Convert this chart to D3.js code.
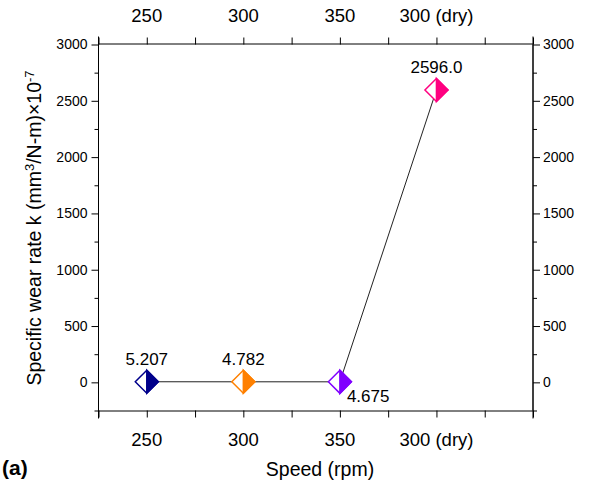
<!DOCTYPE html>
<html><head><meta charset="utf-8">
<script src="https://cdn.jsdelivr.net/npm/d3@7"></script>
<style>body{margin:0;background:#fff}svg{font-family:"Liberation Sans",Arial,sans-serif}</style>
</head><body>
<svg id="c" width="592" height="488"></svg>
<script>
const categories = ["250", "300", "350", "300 (dry)"];
const values = [5.207, 4.782, 4.675, 2596.0];
const valueLabels = ["5.207", "4.782", "4.675", "2596.0"];
const colors = ["#00008B", "#FF8000", "#8000FF", "#FF0080"];
const yTicks = [0, 500, 1000, 1500, 2000, 2500, 3000];

const svg = d3.select("#c");
const L = 98.5, R = 533, T = 44.5, B = 410.5;
const x = d3.scaleLinear().domain([0.5, 5]).range([L, R]);
const y = d3.scaleLinear().domain([-250, 3000]).range([B, T]);
const pos = categories.map((c, i) => i + 1);

const tickVals = d3.range(0.5, 5.01, 0.5);
const yMinor = d3.range(-250, 3001, 500);

// bottom / top axes
svg.append("g").attr("transform", `translate(0,${B})`)
  .call(d3.axisBottom(x).tickValues(tickVals).tickSize(7).tickFormat(""))
  .call(s => s.select(".domain").attr("d", `M${L},0.5H${R}`));
svg.append("g").attr("transform", `translate(0,${T})`)
  .call(d3.axisTop(x).tickValues(tickVals).tickSize(7).tickFormat(""))
  .call(s => s.select(".domain").attr("d", `M${L},-0.5H${R}`));
// left / right axes: major
svg.append("g").attr("transform", `translate(${L},0)`)
  .call(d3.axisLeft(y).tickValues(yTicks).tickSize(7).tickFormat(""))
  .call(s => s.select(".domain").attr("d", `M0,${T}V${B}`));
svg.append("g").attr("transform", `translate(${R},0)`)
  .call(d3.axisRight(y).tickValues(yTicks).tickSize(7).tickFormat(""))
  .call(s => s.select(".domain").attr("d", `M0,${T}V${B}`));
// minor
svg.append("g").attr("transform", `translate(${L},0)`)
  .call(d3.axisLeft(y).tickValues(yMinor).tickSize(4).tickFormat(""))
  .call(s => s.select(".domain").remove());
svg.append("g").attr("transform", `translate(${R},0)`)
  .call(d3.axisRight(y).tickValues(yMinor).tickSize(4).tickFormat(""))
  .call(s => s.select(".domain").remove());
svg.selectAll(".tick line").attr("stroke", "#000");
svg.append("path").attr("stroke","#000").attr("d",
  `M${L},${T-8}V${B+8}M${R},${T-8}V${B+8}`);

// y tick labels
svg.append("g").selectAll("text").data(yTicks).join("text")
  .attr("x", L - 11).attr("y", d => y(d)).attr("dy", "0.35em")
  .attr("text-anchor", "end").attr("font-size", 14).text(d => d);
svg.append("g").selectAll("text").data(yTicks).join("text")
  .attr("x", R + 10).attr("y", d => y(d)).attr("dy", "0.35em")
  .attr("text-anchor", "start").attr("font-size", 14).text(d => d);

// x tick labels
svg.append("g").selectAll("text").data(categories).join("text")
  .attr("x", (d, i) => x(pos[i])).attr("y", 446)
  .attr("text-anchor", "middle").attr("font-size", 18.5).text(d => d);
svg.append("g").selectAll("text").data(categories).join("text")
  .attr("x", (d, i) => x(pos[i])).attr("y", 22)
  .attr("text-anchor", "middle").attr("font-size", 18.5).text(d => d);

// line
const line = d3.line().x((d, i) => x(pos[i])).y(d => y(d));
svg.append("path").datum(values).attr("d", line)
  .attr("fill", "none").attr("stroke", "#222").attr("stroke-width", 1);

// markers: half-filled diamonds
const s = 11.5;
const mk = svg.append("g").selectAll("g").data(values).join("g")
  .attr("transform", (d, i) => `translate(${x(pos[i])},${y(d)})`);
mk.append("path").attr("d", `M0,${-s}L${s},0L0,${s}L${-s},0Z`)
  .attr("fill", "#fff").attr("stroke", (d, i) => colors[i]).attr("stroke-width", 1.5);
mk.append("path").attr("d", `M0,${-s}L${s},0L0,${s}Z`)
  .attr("fill", (d, i) => colors[i]).attr("stroke", (d, i) => colors[i]).attr("stroke-width", 1.5);

// value labels
const lblOff = [[0, -17, "middle"], [0, -17, "middle"], [7, 20, "start"], [0, -17, "middle"]];
svg.append("g").selectAll("text").data(valueLabels).join("text")
  .attr("x", (d, i) => x(pos[i]) + lblOff[i][0])
  .attr("y", (d, i) => y(values[i]) + lblOff[i][1])
  .attr("text-anchor", (d, i) => lblOff[i][2])
  .attr("font-size", 17).text(d => d);

// axis titles
svg.append("text").attr("x", 320).attr("y", 476).attr("text-anchor", "middle")
  .attr("font-size", 19.5).text("Speed (rpm)");
const yt = svg.append("text").attr("transform", `translate(41,228) rotate(-90)`)
  .attr("text-anchor", "middle").attr("font-size", 19.5);
yt.append("tspan").text("Specific wear rate k (mm");
yt.append("tspan").attr("font-size", 13).attr("baseline-shift", "55%").text("3");
yt.append("tspan").text("/N-m)×10");
yt.append("tspan").attr("font-size", 13).attr("baseline-shift", "55%").text("-7");
svg.append("text").attr("x", 2).attr("y", 475).attr("font-size", 21)
  .attr("font-weight", "bold").text("(a)");
</script>
</body></html>
